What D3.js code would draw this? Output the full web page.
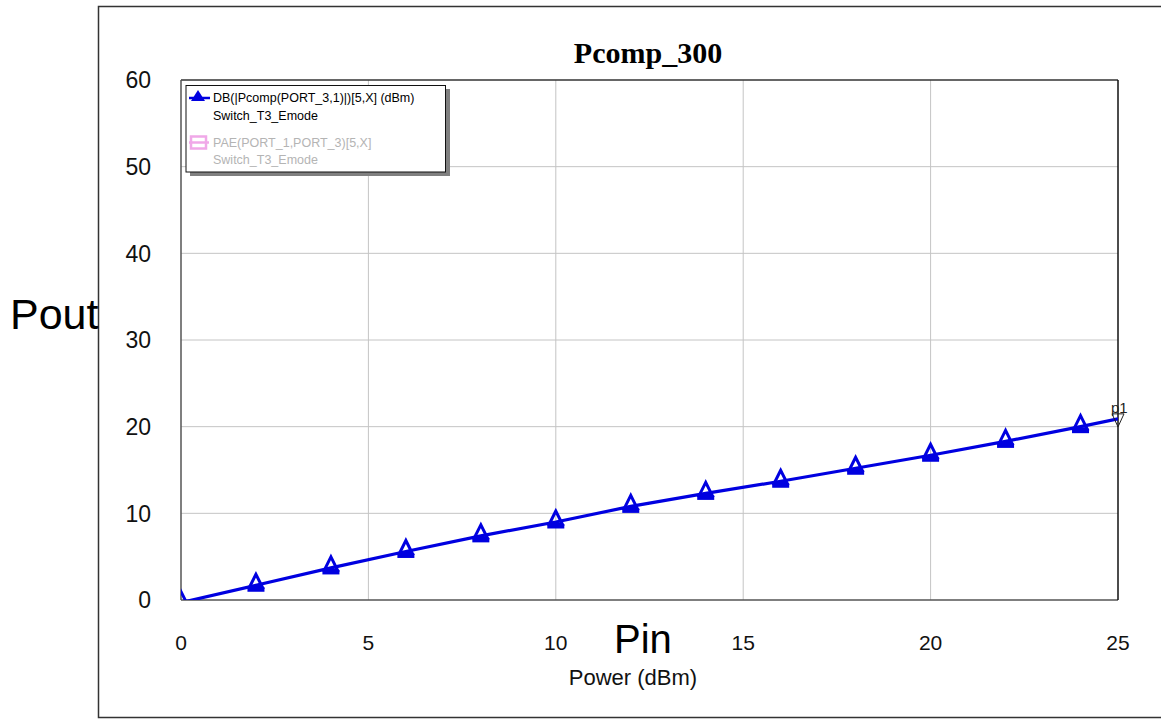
<!DOCTYPE html>
<html>
<head>
<meta charset="utf-8">
<script src="https://cdn.jsdelivr.net/npm/d3@7"></script>
<style>
  body { margin: 0; background: #fff; }
  svg { display: block; }
</style>
</head>
<body>
<div id="chart"></div>
<script>
// Data
const pin = [0, 2, 4, 6, 8, 10, 12, 14, 16, 18, 20, 22, 24, 25];
const pout = [-0.3, 1.7, 3.7, 5.6, 7.4, 9.0, 10.8, 12.3, 13.7, 15.2, 16.7, 18.3, 20.0, 20.9];
const xTicks = [0, 5, 10, 15, 20, 25];
const yTicks = [0, 10, 20, 30, 40, 50, 60];
const legendItems = [
  { name: "DB(|Pcomp(PORT_3,1)|)[5,X] (dBm)", source: "Switch_T3_Emode" },
  { name: "PAE(PORT_1,PORT_3)[5,X]", source: "Switch_T3_Emode" }
];

const width = 1161;
const height = 719;
const blue = "#0000e0";
const pink = "#f0a8e8";

const x = d3.scaleLinear().domain([0, 25]).range([181, 1118]);
const y = d3.scaleLinear().domain([0, 60]).range([600, 80]);

const svg = d3.select("#chart")
  .append("svg")
  .attr("width", width)
  .attr("height", height)
  .style("font-family", "'Liberation Sans', Arial, sans-serif");

// outer frame
svg.append("rect")
  .attr("x", 98.5).attr("y", 6.5)
  .attr("width", 1080).attr("height", 711)
  .attr("fill", "none").attr("stroke", "#333").attr("stroke-width", 1.5);

// gridlines
svg.append("g")
  .selectAll("line")
  .data(xTicks.slice(1, -1))
  .join("line")
    .attr("x1", (d) => x(d)).attr("x2", (d) => x(d))
    .attr("y1", y(60)).attr("y2", y(0))
    .attr("stroke", "#c4c4c4").attr("stroke-width", 1);

svg.append("g")
  .selectAll("line")
  .data(yTicks.slice(1, -1))
  .join("line")
    .attr("x1", x(0)).attr("x2", x(25))
    .attr("y1", (d) => y(d)).attr("y2", (d) => y(d))
    .attr("stroke", "#c4c4c4").attr("stroke-width", 1);

// plot border
svg.append("line").attr("x1", x(0)).attr("x2", x(25)).attr("y1", y(60)).attr("y2", y(60))
  .attr("stroke", "#333").attr("stroke-width", 1.5);
svg.append("line").attr("x1", x(0)).attr("x2", x(25)).attr("y1", y(0)).attr("y2", y(0))
  .attr("stroke", "#555").attr("stroke-width", 1.5);
svg.append("line").attr("x1", x(0)).attr("x2", x(0)).attr("y1", y(60)).attr("y2", y(0))
  .attr("stroke", "#555").attr("stroke-width", 1.5);
svg.append("line").attr("x1", x(25)).attr("x2", x(25)).attr("y1", y(60)).attr("y2", y(0))
  .attr("stroke", "#111").attr("stroke-width", 1.5);

// tick labels
svg.append("g")
  .selectAll("text")
  .data(xTicks)
  .join("text")
    .attr("x", (d) => x(d))
    .attr("y", 650)
    .attr("text-anchor", "middle")
    .style("font-size", "21px")
    .attr("fill", "#111")
    .text((d) => d);

svg.append("g")
  .selectAll("text")
  .data(yTicks)
  .join("text")
    .attr("x", 151)
    .attr("y", (d) => y(d))
    .attr("dy", "0.36em")
    .attr("text-anchor", "end")
    .style("font-size", "23px")
    .attr("fill", "#111")
    .text((d) => d);

// title and labels
svg.append("text")
  .attr("x", 648).attr("y", 63)
  .attr("text-anchor", "middle")
  .style("font-family", "'Liberation Serif', 'Times New Roman', serif")
  .style("font-weight", "bold")
  .style("font-size", "30px")
  .text("Pcomp_300");

svg.append("text")
  .attr("x", 633).attr("y", 685)
  .attr("text-anchor", "middle")
  .style("font-size", "22px")
  .attr("fill", "#111")
  .text("Power (dBm)");

svg.append("text")
  .attr("x", 10).attr("y", 329)
  .style("font-size", "43px")
  .text("Pout");

svg.append("text")
  .attr("x", 614).attr("y", 653)
  .style("font-size", "40px")
  .text("Pin");

// series, clipped to the plot
svg.append("clipPath").attr("id", "plotclip")
  .append("rect")
  .attr("x", x(0)).attr("y", y(60))
  .attr("width", x(25) - x(0)).attr("height", y(0) - y(60));

const series = svg.append("g").attr("clip-path", "url(#plotclip)");
const pts = pin.map((d, i) => [d, pout[i]]);

series.append("path")
  .datum(pts)
  .attr("fill", "none")
  .attr("stroke", blue)
  .attr("stroke-width", 3.2)
  .attr("d", d3.line().x((d) => x(d[0])).y((d) => y(d[1])));

const tri = "M0,-11L-6.5,2L6.5,2Z";
const markers = series.append("g")
  .selectAll("g")
  .data(pts.filter((d) => d[0] % 2 === 0))
  .join("g")
    .attr("transform", (d) => `translate(${x(d[0])},${y(d[1])})`);
markers.append("path")
  .attr("d", tri)
  .attr("fill", "none")
  .attr("stroke", blue)
  .attr("stroke-width", 3)
  .attr("stroke-linejoin", "miter");
markers.append("rect")
  .attr("x", -8.5).attr("y", 2).attr("width", 17).attr("height", 4.5)
  .attr("fill", blue);

// end marker p1
const last = pts[pts.length - 1];
svg.append("path")
  .attr("transform", `translate(${x(last[0])},${y(last[1])})`)
  .attr("d", "M-6,-5L6,-5L0,8Z")
  .attr("fill", "none")
  .attr("stroke", "#222")
  .attr("stroke-width", 1);
svg.append("text")
  .attr("x", x(last[0]) - 7).attr("y", y(last[1]) - 6)
  .style("font-size", "15px")
  .attr("fill", "#222")
  .text("p1");

// legend
const lg = svg.append("g");
lg.append("rect")
  .attr("x", 190).attr("y", 89).attr("width", 260).attr("height", 87)
  .attr("fill", "#808080");
lg.append("rect")
  .attr("x", 186).attr("y", 85.5).attr("width", 259.5).attr("height", 86.5)
  .attr("fill", "#fff").attr("stroke", "#111").attr("stroke-width", 1);

// entry 1
lg.append("line").attr("x1", 189).attr("x2", 210).attr("y1", 98).attr("y2", 98)
  .attr("stroke", blue).attr("stroke-width", 2.5);
lg.append("path")
  .attr("transform", "translate(198,98)")
  .attr("d", "M0,-8L-7,3L7,3Z")
  .attr("fill", blue);
lg.append("text").attr("x", 213).attr("y", 102)
  .style("font-size", "12.5px").attr("fill", "#000").text(legendItems[0].name);
lg.append("text").attr("x", 213).attr("y", 120)
  .style("font-size", "12.5px").attr("fill", "#000").text(legendItems[0].source);

// entry 2
lg.append("line").attr("x1", 189).attr("x2", 209).attr("y1", 142.5).attr("y2", 142.5)
  .attr("stroke", pink).attr("stroke-width", 2.5);
lg.append("rect")
  .attr("x", 191).attr("y", 136.5).attr("width", 15).attr("height", 12)
  .attr("fill", "none").attr("stroke", pink).attr("stroke-width", 2.5);
lg.append("text").attr("x", 213).attr("y", 147)
  .style("font-size", "12.5px").attr("fill", "#b4b4b4").text(legendItems[1].name);
lg.append("text").attr("x", 213).attr("y", 164)
  .style("font-size", "12.5px").attr("fill", "#b4b4b4").text(legendItems[1].source);
</script>
</body>
</html>
